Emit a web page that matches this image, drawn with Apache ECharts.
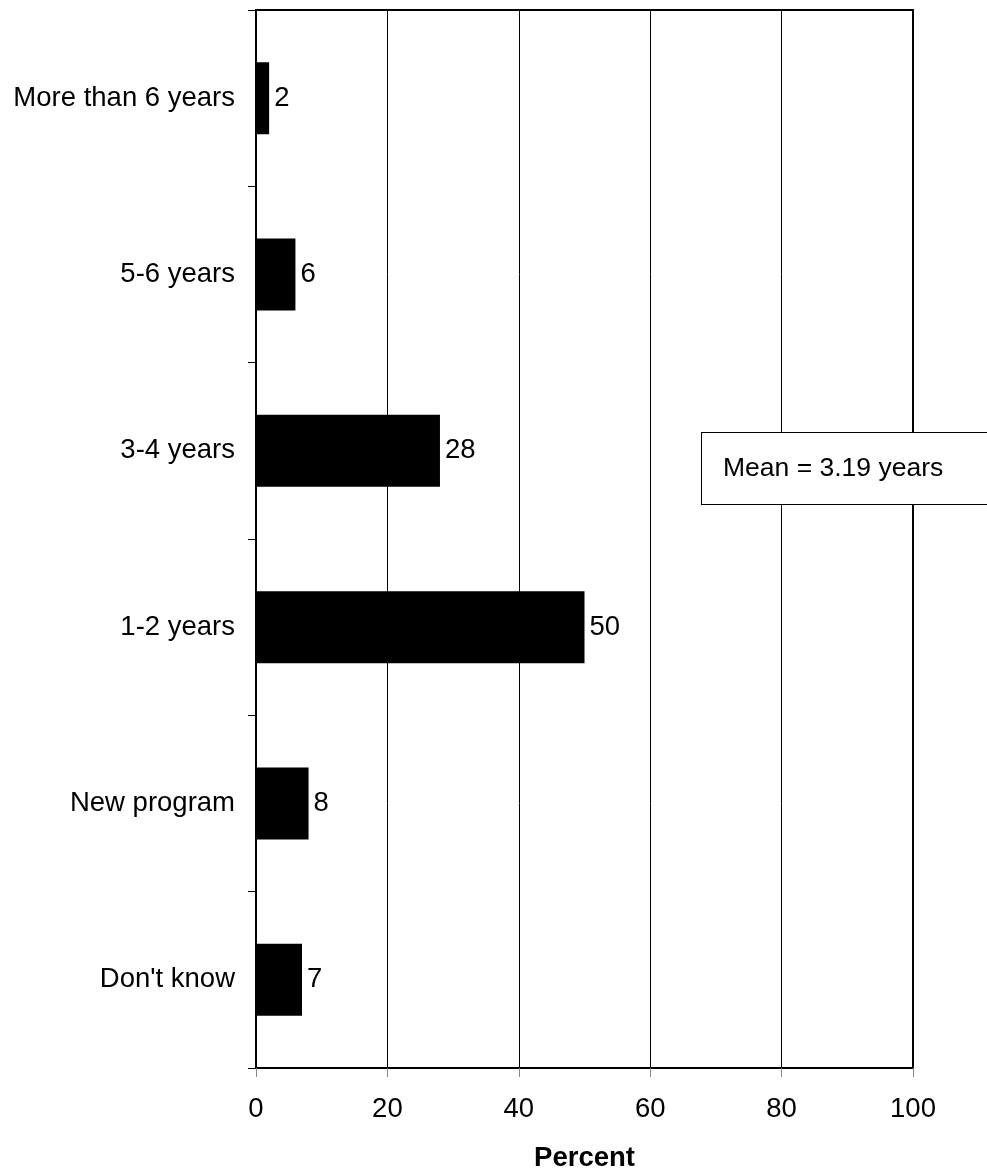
<!DOCTYPE html>
<html>
<head>
<meta charset="utf-8">
<script src="https://cdn.jsdelivr.net/npm/echarts@6/dist/echarts.min.js"></script>
<style>
  html, body { margin: 0; padding: 0; background: #fff; }
  #chart { width: 987px; height: 1168px; }
</style>
</head>
<body>
<div id="chart"></div>
<script>
// Program duration categories, listed top to bottom
const categories = ['More than 6 years', '5-6 years', '3-4 years', '1-2 years', 'New program', "Don't know"];
// Share of respondents (percent)
const percents = [2, 6, 28, 50, 8, 7];
// Horizontal axis ticks
const xTicks = [0, 20, 40, 60, 80, 100];
const meanNote = 'Mean = 3.19 years';

const FONT = '"Liberation Sans", Arial, sans-serif';
const FS = 27.5;
const chart = echarts.init(document.getElementById('chart'), null, { renderer: 'canvas' });

chart.setOption({
  animation: false,
  backgroundColor: '#fff',
  grid: {
    left: 256, right: 74, top: 10, bottom: 100,
    containLabel: false, outerBoundsMode: 'none',
    show: true, borderColor: '#000', borderWidth: 2, backgroundColor: 'transparent'
  },
  xAxis: {
    type: 'value',
    min: xTicks[0], max: xTicks[xTicks.length - 1], interval: 20,
    name: 'Percent', nameLocation: 'middle', nameGap: 76,
    nameTextStyle: { fontFamily: FONT, fontSize: FS, fontWeight: 'bold', color: '#000' },
    axisLine: { show: true, lineStyle: { color: '#000', width: 2 } },
    axisTick: { show: true, length: 9, lineStyle: { color: '#888', width: 1 } },
    axisLabel: { fontFamily: FONT, fontSize: FS, color: '#000', margin: 27 },
    splitLine: { show: true, lineStyle: { color: '#000', width: 1 } }
  },
  yAxis: {
    type: 'category',
    data: categories,
    inverse: true,
    axisLine: { show: true, lineStyle: { color: '#000', width: 2 } },
    axisTick: { show: true, length: 8, alignWithLabel: false, lineStyle: { color: '#000', width: 1 } },
    axisLabel: { fontFamily: FONT, fontSize: FS, color: '#000', margin: 21 },
    splitLine: { show: false }
  },
  series: [{
    type: 'bar',
    data: percents,
    barWidth: 72,
    itemStyle: { color: '#000' },
    label: {
      show: true, position: 'right', distance: 5,
      fontFamily: FONT, fontSize: FS, color: '#000'
    }
  }],
  graphic: {
    elements: [{
      // annotation box with the mean duration, drawn above the grid lines
      type: 'text',
      z: 100, zlevel: 1,
      left: 701, top: 432,
      style: {
        text: meanNote, fontFamily: FONT, fontSize: 26.5, fill: '#000',
        backgroundColor: '#fff', borderColor: '#000', borderWidth: 1,
        width: 330, height: 71, lineHeight: 71,
        padding: [0, 0, 0, 21], align: 'left', verticalAlign: 'top'
      }
    }]
  }
});
</script>
</body>
</html>
